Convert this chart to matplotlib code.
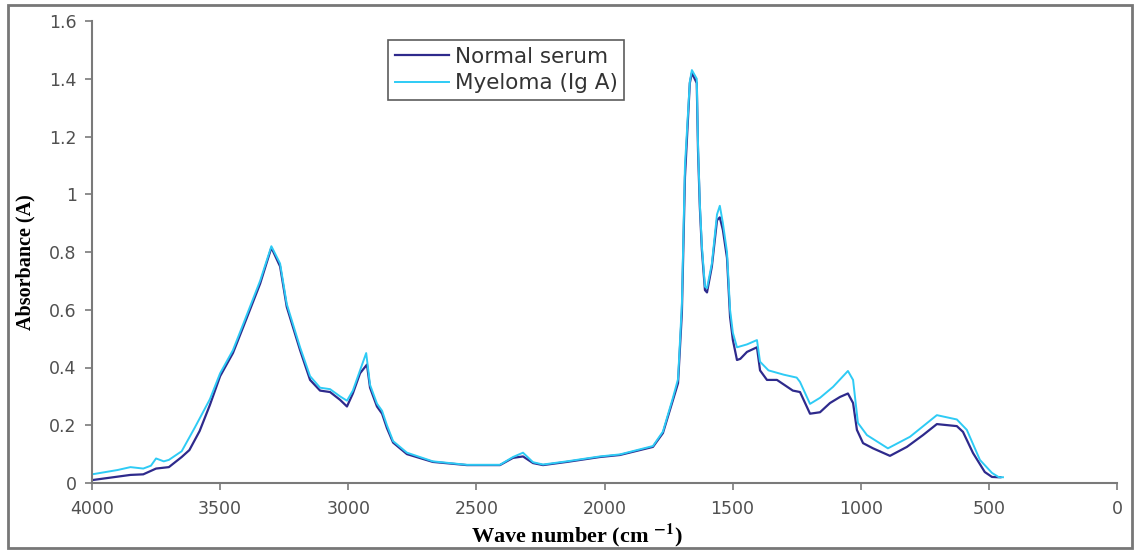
import numpy as np
import matplotlib
matplotlib.use('Agg')
import matplotlib.pyplot as plt
from matplotlib.patches import Rectangle

# Normal serum (dark trace)
normal_wn = [4000, 3900, 3850, 3800, 3750, 3700, 3650, 3620, 3580, 3540, 3500, 3450, 3410, 3344,
             3300, 3266, 3240, 3188, 3149, 3110, 3071, 3032, 3005, 2982, 2954, 2927, 2915, 2888,
             2868, 2849, 2825, 2771, 2670, 2537, 2408, 2357, 2318, 2279, 2240, 2147, 2018, 1940,
             1811, 1772, 1733, 1713, 1698, 1686, 1667, 1659, 1640, 1635, 1628, 1620, 1608, 1600,
             1581, 1561, 1550, 1538, 1522, 1510, 1499, 1483, 1470, 1444, 1405, 1393, 1366, 1327,
             1265, 1237, 1198, 1159, 1120, 1081, 1050, 1030, 1015, 991, 952, 886, 820, 757, 703,
             625, 601, 562, 516, 488, 465, 455]
normal_abs = [0.01, 0.022, 0.028, 0.03, 0.05, 0.055, 0.09, 0.114, 0.18, 0.27, 0.37, 0.45, 0.54, 0.69,
              0.815, 0.75, 0.61, 0.46, 0.357, 0.32, 0.315, 0.288, 0.265, 0.31, 0.38, 0.41, 0.33, 0.265,
              0.24, 0.19, 0.14, 0.10, 0.073, 0.062, 0.062, 0.087, 0.092, 0.069, 0.062, 0.073, 0.09, 0.097,
              0.125, 0.173, 0.287, 0.346, 0.59, 1.06, 1.385, 1.42, 1.385, 1.15, 0.956, 0.807, 0.668, 0.66,
              0.75, 0.91, 0.92, 0.876, 0.78, 0.575, 0.495, 0.426, 0.43, 0.454, 0.47, 0.39, 0.357, 0.357,
              0.32, 0.315, 0.24, 0.245, 0.277, 0.298, 0.31, 0.277, 0.184, 0.138, 0.12, 0.094, 0.125, 0.166, 0.204,
              0.197, 0.177, 0.104, 0.038, 0.021, 0.02, 0.02]

# Myeloma (Ig A) (cyan trace)
myeloma_wn = [4000, 3900, 3850, 3800, 3770, 3750, 3720, 3700, 3650, 3600, 3540, 3500, 3450, 3410, 3344,
              3300, 3266, 3240, 3188, 3149, 3110, 3071, 3032, 3005, 2982, 2954, 2930, 2915, 2888,
              2868, 2849, 2825, 2771, 2670, 2537, 2408, 2357, 2318, 2279, 2240, 2147, 2018, 1940,
              1811, 1772, 1733, 1713, 1698, 1686, 1667, 1659, 1640, 1635, 1628, 1620, 1608, 1600,
              1581, 1561, 1550, 1538, 1522, 1510, 1499, 1483, 1444, 1405, 1393, 1360, 1300,
              1250, 1237, 1198, 1159, 1108, 1050, 1030, 1011, 976, 894, 808, 703,
              625, 586, 535, 488, 461, 445]
myeloma_abs = [0.03, 0.045, 0.055, 0.05, 0.06, 0.085, 0.075, 0.08, 0.11, 0.19, 0.29, 0.38, 0.46, 0.55, 0.70,
               0.82, 0.76, 0.62, 0.47, 0.37, 0.33, 0.325, 0.30, 0.285, 0.32, 0.39, 0.45, 0.34, 0.275,
               0.25, 0.20, 0.145, 0.105, 0.075, 0.063, 0.063, 0.09, 0.105, 0.072, 0.064, 0.075, 0.092, 0.099,
               0.128, 0.178, 0.295, 0.36, 0.62, 1.10, 1.39, 1.43, 1.40, 1.17, 0.97, 0.82, 0.68, 0.675,
               0.76, 0.93, 0.96, 0.90, 0.80, 0.60, 0.52, 0.47, 0.48, 0.495, 0.42, 0.39, 0.375,
               0.365, 0.35, 0.274, 0.295, 0.333, 0.388, 0.357, 0.208, 0.166, 0.12, 0.16, 0.235,
               0.22, 0.184, 0.08, 0.035, 0.02, 0.02]

xticks = [4000, 3500, 3000, 2500, 2000, 1500, 1000, 500, 0]
yticks = [0, 0.2, 0.4, 0.6, 0.8, 1.0, 1.2, 1.4, 1.6]
ytick_labels = ['0', '0.2', '0.4', '0.6', '0.8', '1', '1.2', '1.4', '1.6']

plt.rcParams['mathtext.fontset'] = 'stix'

fig = plt.figure(figsize=(11.36, 5.52), dpi=100)
ax = fig.add_axes([92 / 1136, 69 / 552, 1025 / 1136, 462 / 552])

ax.plot(normal_wn, normal_abs, color='#2e2a8c', lw=1.6, label='Normal serum')
ax.plot(myeloma_wn, myeloma_abs, color='#2ecbf5', lw=1.4, label='Myeloma (Ig A)')

ax.set_xlim(4000, 0)
ax.set_ylim(0, 1.6)
ax.set_xticks(xticks)
ax.set_yticks(yticks)
ax.set_yticklabels(ytick_labels)

for side in ['top', 'right']:
    ax.spines[side].set_visible(False)
for side in ['left', 'bottom']:
    ax.spines[side].set_color('#7a7a7a')
    ax.spines[side].set_linewidth(1.5)

ax.tick_params(axis='both', direction='out', length=5, width=1.2, color='#7a7a7a',
               labelsize=12.5, labelcolor='#505050')
for lab in ax.get_xticklabels() + ax.get_yticklabels():
    lab.set_family('DejaVu Sans')
ax.tick_params(axis='x', pad=7)
ax.tick_params(axis='y', pad=6)

ax.set_ylabel('Absorbance (A)', fontfamily='Liberation Serif', fontweight='bold', fontsize=14.5)
ax.yaxis.set_label_coords(-0.055, 0.478)
ax.set_xlabel(r'Wave number (cm $^{\mathbf{-1}}$)', fontfamily='Liberation Serif', fontweight='bold',
              fontsize=16)
ax.xaxis.set_label_coords(0.473, -0.083)

leg = ax.legend(loc='upper left', bbox_to_anchor=(0.289, 0.958), frameon=True, fancybox=False,
                prop={'family': 'DejaVu Sans', 'size': 15.5}, handlelength=2.5, borderpad=0.3,
                labelspacing=0.3, handletextpad=0.3, borderaxespad=0)
leg.get_frame().set_edgecolor('#333333')
leg.get_frame().set_linewidth(1.2)
for t in leg.get_texts():
    t.set_color('#333333')

fig.patches.append(Rectangle((8 / 1136, 4 / 552), 1124 / 1136, 543 / 552, transform=fig.transFigure,
                             fill=False, edgecolor='#777777', lw=2))

fig.savefig('out.png', dpi=100)
